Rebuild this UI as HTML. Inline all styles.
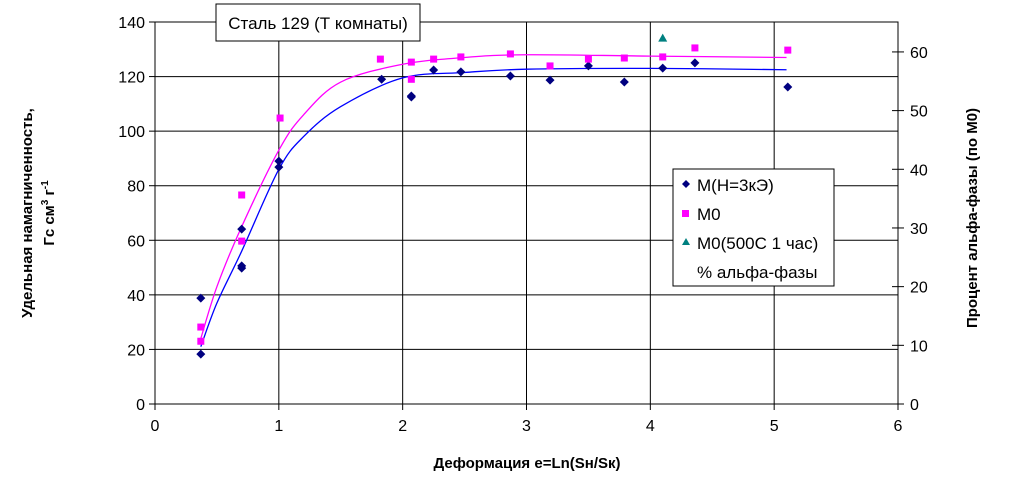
<!DOCTYPE html>
<html><head><meta charset="utf-8"><style>
body{margin:0;background:#fff;}
svg text{font-family:"Liberation Sans",sans-serif;}
</style></head><body>
<svg id="chart" width="1017" height="492" xmlns="http://www.w3.org/2000/svg">
<rect width="1017" height="492" fill="#fff"/>
<g id="grid"></g>
<g id="curves"></g>
<g id="marks"></g>
<g id="axes"></g>
<g>
<rect x="216" y="4" width="204" height="37" fill="#fff" stroke="#000"/>
<text x="318" y="29" font-size="17" text-anchor="middle">Сталь 129 (Т комнаты)</text>
</g>
<g>
<rect x="673" y="169" width="161" height="117" fill="#fff" stroke="#000"/>
<g><path d="M686,180 l4,4 l-4,4 l-4,-4z" fill="#000080"/><text x="697" y="191" font-size="17">M(H=3кЭ)</text></g>
<g><rect x="682" y="210" width="7" height="7" fill="#ff00ff"/><text x="697" y="220" font-size="17">M0</text></g>
<g><path d="M686,238 l4,7 h-8z" fill="#008080"/><text x="697" y="249" font-size="17">M0(500C 1 час)</text></g>
<g><text x="697" y="278" font-size="17">% альфа-фазы</text></g>
</g>
<text transform="translate(32,213) rotate(-90)" font-size="15" font-weight="bold" text-anchor="middle">Удельная намагниченность,</text>
<text transform="translate(54,213) rotate(-90)" font-size="15" font-weight="bold" text-anchor="middle">Гс см<tspan dy="-6" font-size="10">3</tspan><tspan dy="6"> г</tspan><tspan dy="-6" font-size="10">-1</tspan></text>
<text transform="translate(977,218) rotate(-90)" font-size="15" font-weight="bold" text-anchor="middle">Процент альфа-фазы (по М0)</text>
<text x="527" y="468" font-size="15" font-weight="bold" text-anchor="middle">Деформация е=Ln(Sн/Sк)</text>
</svg>
<script>
const xTicks=[0,1,2,3,4,5,6];
const yTicks=[0,20,40,60,80,100,120,140];
const y2Ticks=[0,10,20,30,40,50,60];
const mhX=[0.37,0.37,0.70,0.70,0.70,1.00,1.00,1.83,2.07,2.07,2.25,2.47,2.87,3.19,3.50,3.79,4.10,4.36,5.11];
const mhY=[38.8,18.3,49.8,50.6,64.1,89.0,86.8,119.0,112.9,112.5,122.4,121.7,120.2,118.7,123.9,118.0,123.1,125.0,116.2];
const m0X=[0.37,0.37,0.70,0.70,1.01,1.82,2.07,2.07,2.25,2.47,2.87,3.19,3.50,3.79,4.10,4.36,5.11];
const m0Y=[28.2,23.0,76.6,59.7,104.8,126.4,125.3,119.0,126.4,127.2,128.3,123.9,126.4,126.8,127.2,130.5,129.7];
const triX=[4.10];
const triY=[134.1];
const fitX=[0.37,0.5,0.7,1.0,1.2,1.5,2.0,2.5,3.0,4.0,5.1];
const fitMh=[21,37,56,86,98,109,119.5,121.5,122.7,123,122.5];
const fitM0=[24,43,65,93,106,118,124.5,127,128,127.5,127];
const NS="http://www.w3.org/2000/svg";
const L=155,R=898,T=22,B=404;
const xs=v=>L+v*(R-L)/6, ys=v=>B-v*(B-T)/140, y2s=v=>B-v*(B-T)/65.1;
function mk(tag,attrs,parent){const e=document.createElementNS(NS,tag);for(const k in attrs)e.setAttribute(k,attrs[k]);document.getElementById(parent).appendChild(e);return e;}
yTicks.forEach(t=>{const l=mk('line',{x1:L,x2:R,y1:ys(t),y2:ys(t),stroke:'#000','stroke-width':1},'grid');


const k=mk('line',{x1:L-6,x2:L,y1:ys(t),y2:ys(t),stroke:'#000'},'axes');


const tx=mk('text',{x:L-10,y:ys(t)+6,'font-size':16,'text-anchor':'end'},'axes');tx.textContent=t;

});
xTicks.forEach(t=>{const l=mk('line',{x1:xs(t),x2:xs(t),y1:T,y2:B,stroke:'#000'},'grid');


const k=mk('line',{x1:xs(t),x2:xs(t),y1:B,y2:B+6,stroke:'#000'},'axes');


const tx=mk('text',{x:xs(t),y:B+27,'font-size':16,'text-anchor':'middle'},'axes');tx.textContent=t;

});
y2Ticks.forEach(t=>{const k=mk('line',{x1:R-6,x2:R+6,y1:y2s(t),y2:y2s(t),stroke:'#000'},'axes');


const tx=mk('text',{x:R+12,y:y2s(t)+6,'font-size':16},'axes');tx.textContent=t;

});
const fr=mk('rect',{x:L,y:T,width:R-L,height:B-T,fill:'none',stroke:'#000'},'axes');


function smooth(xsA,ysA){const p=xsA.map((x,i)=>[xs(x),ys(ysA[i])]);let d='M'+p[0][0]+','+p[0][1];
for(let i=0;i<p.length-1;i++){const p0=p[i-1]||p[i],p1=p[i],p2=p[i+1],p3=p[i+2]||p2;
d+=' C'+(p1[0]+(p2[0]-p0[0])/6)+','+(p1[1]+(p2[1]-p0[1])/6)+' '+(p2[0]-(p3[0]-p1[0])/6)+','+(p2[1]-(p3[1]-p1[1])/6)+' '+p2[0]+','+p2[1];}return d;}
const c1=mk('path',{d:smooth(fitX,fitMh),fill:'none',stroke:'#0000ff','stroke-width':1.3},'curves');


const c2=mk('path',{d:smooth(fitX,fitM0),fill:'none',stroke:'#ff00ff','stroke-width':1.3},'curves');


mhX.forEach((x,i)=>{const cx=xs(x),cy=ys(mhY[i]);const p=mk('path',{d:`M${cx},${cy-4.5} l4.5,4.5 l-4.5,4.5 l-4.5,-4.5z`,fill:'#000080'},'marks');

});
m0X.forEach((x,i)=>{const cx=xs(x),cy=ys(m0Y[i]);const p=mk('rect',{x:cx-3.5,y:cy-3.5,width:7,height:7,fill:'#ff00ff'},'marks');

});
triX.forEach((x,i)=>{const cx=xs(x),cy=ys(triY[i]);const p=mk('path',{d:`M${cx},${cy-4.5} l4.5,8 h-9z`,fill:'#008080'},'marks');

});
</script>
</body></html>
